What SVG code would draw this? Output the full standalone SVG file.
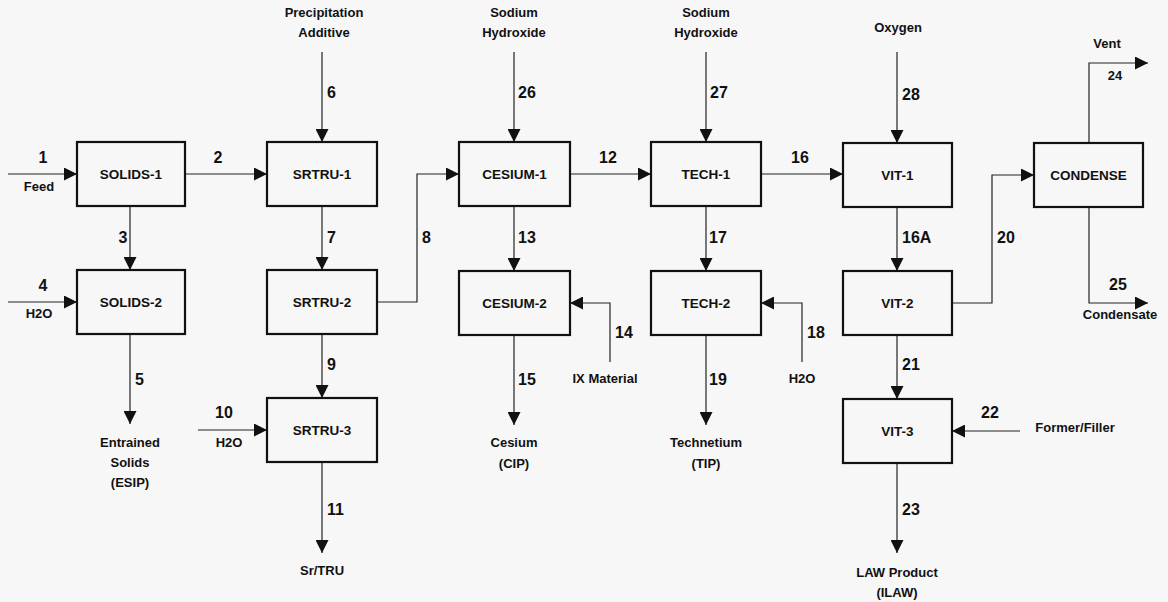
<svg xmlns="http://www.w3.org/2000/svg" width="1168" height="602" viewBox="0 0 1168 602">
<style>
.bg{fill:#f7f7f7}
.box rect{fill:#f7f7f7;stroke:#111;stroke-width:2.2}
.box text{font-family:"Liberation Sans",Arial,sans-serif;font-weight:bold;font-size:13.5px;text-anchor:middle;fill:#111}
.conn path{fill:none;stroke:#222;stroke-width:1.2}
.num{font-family:"Liberation Sans",Arial,sans-serif;font-weight:bold;font-size:16px;fill:#111}
.lbl{font-family:"Liberation Sans",Arial,sans-serif;font-weight:bold;font-size:13px;fill:#111;text-anchor:middle}
.m{text-anchor:middle}
</style>
<defs>
<marker id="ah" markerUnits="userSpaceOnUse" markerWidth="14" markerHeight="13" refX="13" refY="6.5" orient="auto">
<path d="M0,0 L13,6.5 L0,13 z" fill="#111"/>
</marker>
</defs>
<rect class="bg" x="0" y="0" width="1168" height="602"/>
<g class="conn">
<path id="s1" d="M8,174 H77" marker-end="url(#ah)"/>
<path id="s2" d="M185,174 H267" marker-end="url(#ah)"/>
<path id="s3" d="M130,206 V270" marker-end="url(#ah)"/>
<path id="s4" d="M8,302 H77" marker-end="url(#ah)"/>
<path id="s5" d="M130,334 V424" marker-end="url(#ah)"/>
<path id="s6" d="M322,52 V142" marker-end="url(#ah)"/>
<path id="s7" d="M322,206 V270" marker-end="url(#ah)"/>
<path id="s8" d="M377,302 H417 V174 H459" marker-end="url(#ah)"/>
<path id="s9" d="M322,334 V398" marker-end="url(#ah)"/>
<path id="s10" d="M198,430 H267" marker-end="url(#ah)"/>
<path id="s11" d="M322,462 V553" marker-end="url(#ah)"/>
<path id="s26" d="M514,52 V142" marker-end="url(#ah)"/>
<path id="s12" d="M570,174 H651" marker-end="url(#ah)"/>
<path id="s13" d="M514,206 V271" marker-end="url(#ah)"/>
<path id="s14" d="M610,362 V303 H570" marker-end="url(#ah)"/>
<path id="s15" d="M514,335 V425" marker-end="url(#ah)"/>
<path id="s27" d="M706,52 V142" marker-end="url(#ah)"/>
<path id="s16" d="M761,174 H843" marker-end="url(#ah)"/>
<path id="s17" d="M706,206 V271" marker-end="url(#ah)"/>
<path id="s18" d="M802,362 V303 H761" marker-end="url(#ah)"/>
<path id="s19" d="M706,335 V425" marker-end="url(#ah)"/>
<path id="s28" d="M897,52 V143" marker-end="url(#ah)"/>
<path id="s16A" d="M897,207 V271" marker-end="url(#ah)"/>
<path id="s20" d="M952,303 H992 V175 H1034" marker-end="url(#ah)"/>
<path id="s24" d="M1089,143 V63 H1148" marker-end="url(#ah)"/>
<path id="s25" d="M1089,207 V303 H1148" marker-end="url(#ah)"/>
<path id="s21" d="M897,335 V399" marker-end="url(#ah)"/>
<path id="s22" d="M1020,431 H952" marker-end="url(#ah)"/>
<path id="s23" d="M897,463 V553" marker-end="url(#ah)"/>
</g>
<g id="solids1" class="box"><rect x="77" y="142" width="108" height="64"/><text x="131" y="179">SOLIDS-1</text></g>
<g id="solids2" class="box"><rect x="77" y="270" width="108" height="64"/><text x="131" y="307">SOLIDS-2</text></g>
<g id="srtru1" class="box"><rect x="267" y="142" width="110" height="64"/><text x="322" y="179">SRTRU-1</text></g>
<g id="srtru2" class="box"><rect x="267" y="270" width="110" height="64"/><text x="322" y="307">SRTRU-2</text></g>
<g id="srtru3" class="box"><rect x="267" y="398" width="110" height="64"/><text x="322" y="435">SRTRU-3</text></g>
<g id="cesium1" class="box"><rect x="459" y="142" width="111" height="64"/><text x="514.5" y="179">CESIUM-1</text></g>
<g id="cesium2" class="box"><rect x="459" y="271" width="111" height="64"/><text x="514.5" y="308">CESIUM-2</text></g>
<g id="tech1" class="box"><rect x="651" y="142" width="110" height="64"/><text x="706" y="179">TECH-1</text></g>
<g id="tech2" class="box"><rect x="651" y="271" width="110" height="64"/><text x="706" y="308">TECH-2</text></g>
<g id="vit1" class="box"><rect x="843" y="143" width="109" height="64"/><text x="897.5" y="180">VIT-1</text></g>
<g id="vit2" class="box"><rect x="843" y="271" width="109" height="64"/><text x="897.5" y="308">VIT-2</text></g>
<g id="vit3" class="box"><rect x="843" y="399" width="109" height="64"/><text x="897.5" y="436">VIT-3</text></g>
<g id="condense" class="box"><rect x="1034" y="143" width="109" height="64"/><text x="1088.5" y="180">CONDENSE</text></g>
<g id="labels">
<text class="num m" x="43" y="163">1</text>
<text class="lbl" x="39" y="191">Feed</text>
<text class="num m" x="218" y="163">2</text>
<text class="num m" x="123" y="243">3</text>
<text class="num m" x="43" y="291">4</text>
<text class="lbl" x="39" y="318">H2O</text>
<text class="num" x="135" y="385">5</text>
<text class="lbl" x="130" y="447">Entrained</text>
<text class="lbl" x="130" y="467">Solids</text>
<text class="lbl" x="130" y="487">(ESIP)</text>
<text class="lbl" x="324" y="17">Precipitation</text>
<text class="lbl" x="324" y="37">Additive</text>
<text class="num" x="327" y="98">6</text>
<text class="num" x="327" y="243">7</text>
<text class="num" x="422" y="243">8</text>
<text class="num" x="327" y="370">9</text>
<text class="num m" x="224" y="418">10</text>
<text class="lbl" x="229" y="447">H2O</text>
<text class="num" x="327" y="515">11</text>
<text class="lbl" x="322" y="575">Sr/TRU</text>
<text class="lbl" x="514" y="17">Sodium</text>
<text class="lbl" x="514" y="37">Hydroxide</text>
<text class="num" x="518" y="98">26</text>
<text class="num m" x="608" y="163">12</text>
<text class="num" x="518" y="243">13</text>
<text class="num" x="615" y="338">14</text>
<text class="lbl" x="605" y="383">IX Material</text>
<text class="num" x="518" y="385">15</text>
<text class="lbl" x="514" y="447">Cesium</text>
<text class="lbl" x="514" y="468">(CIP)</text>
<text class="lbl" x="706" y="17">Sodium</text>
<text class="lbl" x="706" y="37">Hydroxide</text>
<text class="num" x="710" y="98">27</text>
<text class="num m" x="800" y="163">16</text>
<text class="num" x="709" y="243">17</text>
<text class="num" x="807" y="338">18</text>
<text class="lbl" x="802" y="383">H2O</text>
<text class="num" x="709" y="385">19</text>
<text class="lbl" x="706" y="447">Technetium</text>
<text class="lbl" x="706" y="468">(TIP)</text>
<text class="lbl" x="898" y="32">Oxygen</text>
<text class="num" x="902" y="100">28</text>
<text class="num" x="902" y="243">16A</text>
<text class="num" x="997" y="243">20</text>
<text class="lbl" x="1107" y="48">Vent</text>
<text class="lbl" x="1115" y="80">24</text>
<text class="num m" x="1118" y="290">25</text>
<text class="lbl" x="1120" y="319">Condensate</text>
<text class="num" x="902" y="370">21</text>
<text class="num m" x="990" y="418">22</text>
<text class="lbl" x="1075" y="432">Former/Filler</text>
<text class="num" x="902" y="515">23</text>
<text class="lbl" x="897" y="577">LAW Product</text>
<text class="lbl" x="897" y="597">(ILAW)</text>
</g>
</svg>
